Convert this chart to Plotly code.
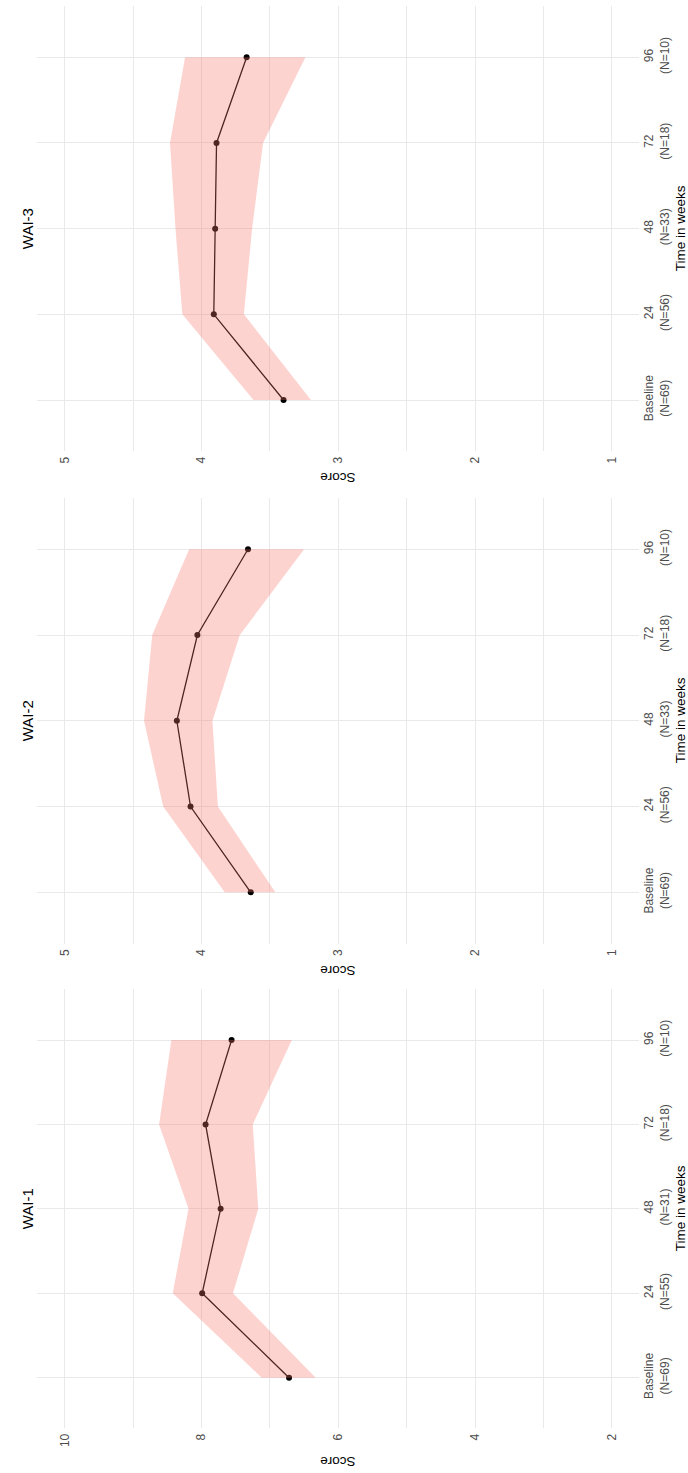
import plotly.graph_objects as go

# Time points and per-panel sample sizes
weeks = ["Baseline", "24", "48", "72", "96"]
panels = ["WAI-1", "WAI-2", "WAI-3"]
n_wai1 = [69, 55, 31, 18, 10]
n_wai2 = [69, 56, 33, 18, 10]
n_wai3 = [69, 56, 33, 18, 10]

# Mean scores with lower / upper confidence band
mean_wai1 = [6.72, 7.99, 7.72, 7.94, 7.56]
lower_wai1 = [6.33, 7.54, 7.17, 7.25, 6.68]
upper_wai1 = [7.12, 8.42, 8.19, 8.62, 8.44]

mean_wai2 = [3.64, 4.08, 4.18, 4.03, 3.66]
lower_wai2 = [3.46, 3.88, 3.92, 3.72, 3.25]
upper_wai2 = [3.83, 4.28, 4.42, 4.36, 4.09]

mean_wai3 = [3.40, 3.91, 3.90, 3.89, 3.67]
lower_wai3 = [3.20, 3.69, 3.63, 3.55, 3.24]
upper_wai3 = [3.62, 4.14, 4.19, 4.23, 4.12]

# Score axis ticks
ticks_wai1 = [2, 4, 6, 8, 10]
ticks_wai23 = [1, 2, 3, 4, 5]

W, H = 688, 1473
FONT = "Liberation Sans, Arial, sans-serif"
GRID = "#E9E9E9"
TICK_COL = "#4D4D4D"
RIBBON = "rgba(248,118,109,0.32)"

# pixel layout of each panel: (top, bottom)
panel_px = [(989.4, 1428.3), (497.8, 943.8), (5.9, 451.4)]
x_left_px, x_right_px = 37.3, 639.3

series = [
    (mean_wai1, lower_wai1, upper_wai1, n_wai1, ticks_wai1, 1, [10.4, 1.6]),
    (mean_wai2, lower_wai2, upper_wai2, n_wai2, ticks_wai23, 0.5, [5.2, 0.8]),
    (mean_wai3, lower_wai3, upper_wai3, n_wai3, ticks_wai23, 0.5, [5.2, 0.8]),
]

fig = go.Figure()


def ypap(px):
    return 1 - px / H


for i, (mean, lo, hi, n, ticks, mdt, xr) in enumerate(series):
    k = "" if i == 0 else str(i + 1)
    xa, ya = "x" + k, "y" + k

    # mean trajectory (drawn first so the band tints it)
    fig.add_trace(go.Scatter(
        x=mean, y=weeks, xaxis=xa, yaxis=ya, mode="lines+markers",
        line=dict(color="#000000", width=1.3),
        marker=dict(color="#000000", size=6),
        showlegend=False, hoverinfo="skip",
    ))
    # confidence band
    fig.add_trace(go.Scatter(
        x=hi + lo[::-1], y=weeks + weeks[::-1], xaxis=xa, yaxis=ya,
        mode="lines", fill="toself", fillcolor=RIBBON,
        line=dict(width=0, color="rgba(0,0,0,0)"),
        showlegend=False, hoverinfo="skip",
    ))

    top, bot = panel_px[i]
    fig.layout["xaxis" + k] = dict(
        domain=[x_left_px / W, x_right_px / W], anchor=ya, range=xr,
        tickmode="array", tickvals=ticks, ticktext=[str(t) for t in ticks],
        tickangle=-90, ticks="", ticklabelstandoff=2,
        tickfont=dict(size=12, color=TICK_COL, family=FONT),
        showgrid=True, gridcolor=GRID, gridwidth=1.1,
        minor=dict(dtick=mdt, tick0=0, showgrid=True, gridcolor=GRID, gridwidth=0.8),
        zeroline=False, showline=False, automargin=False,
    )
    fig.layout["yaxis" + k] = dict(
        domain=[ypap(bot), ypap(top)], anchor=xa, type="category",
        categoryorder="array", categoryarray=weeks, range=[-0.6, 4.6],
        side="right", tickmode="array", tickvals=weeks,
        ticktext=[f"{w}<br>(N={m})" for w, m in zip(weeks, n)],
        tickangle=-90, ticks="", ticklabelstandoff=1,
        tickfont=dict(size=12, color=TICK_COL, family=FONT),
        showgrid=True, gridcolor=GRID, gridwidth=1.1,
        zeroline=False, showline=False, automargin=False,
    )

    mid = (top + bot) / 2
    # panel title
    fig.add_annotation(
        text=panels[i], x=27.5 / W, y=ypap(mid), xref="paper", yref="paper",
        textangle=-90, showarrow=False, xanchor="center", yanchor="middle",
        font=dict(size=15, color="#000000", family=FONT),
    )
    # time axis title
    fig.add_annotation(
        text="Time in weeks", x=680.5 / W, y=ypap(mid), xref="paper", yref="paper",
        textangle=-90, showarrow=False, xanchor="center", yanchor="middle",
        font=dict(size=13.5, color="#000000", family=FONT),
    )
    # score axis title
    off = 33 if i == 0 else 26
    fig.add_annotation(
        text="Score", x=(x_left_px + x_right_px) / 2 / W, y=ypap(bot + off),
        xref="paper", yref="paper", textangle=180, showarrow=False,
        xanchor="center", yanchor="middle",
        font=dict(size=13.5, color="#000000", family=FONT),
    )

fig.update_layout(
    width=W, height=H, margin=dict(l=0, r=0, t=0, b=0),
    paper_bgcolor="white", plot_bgcolor="white",
    font=dict(family=FONT),
)

fig.write_html("out.html")
